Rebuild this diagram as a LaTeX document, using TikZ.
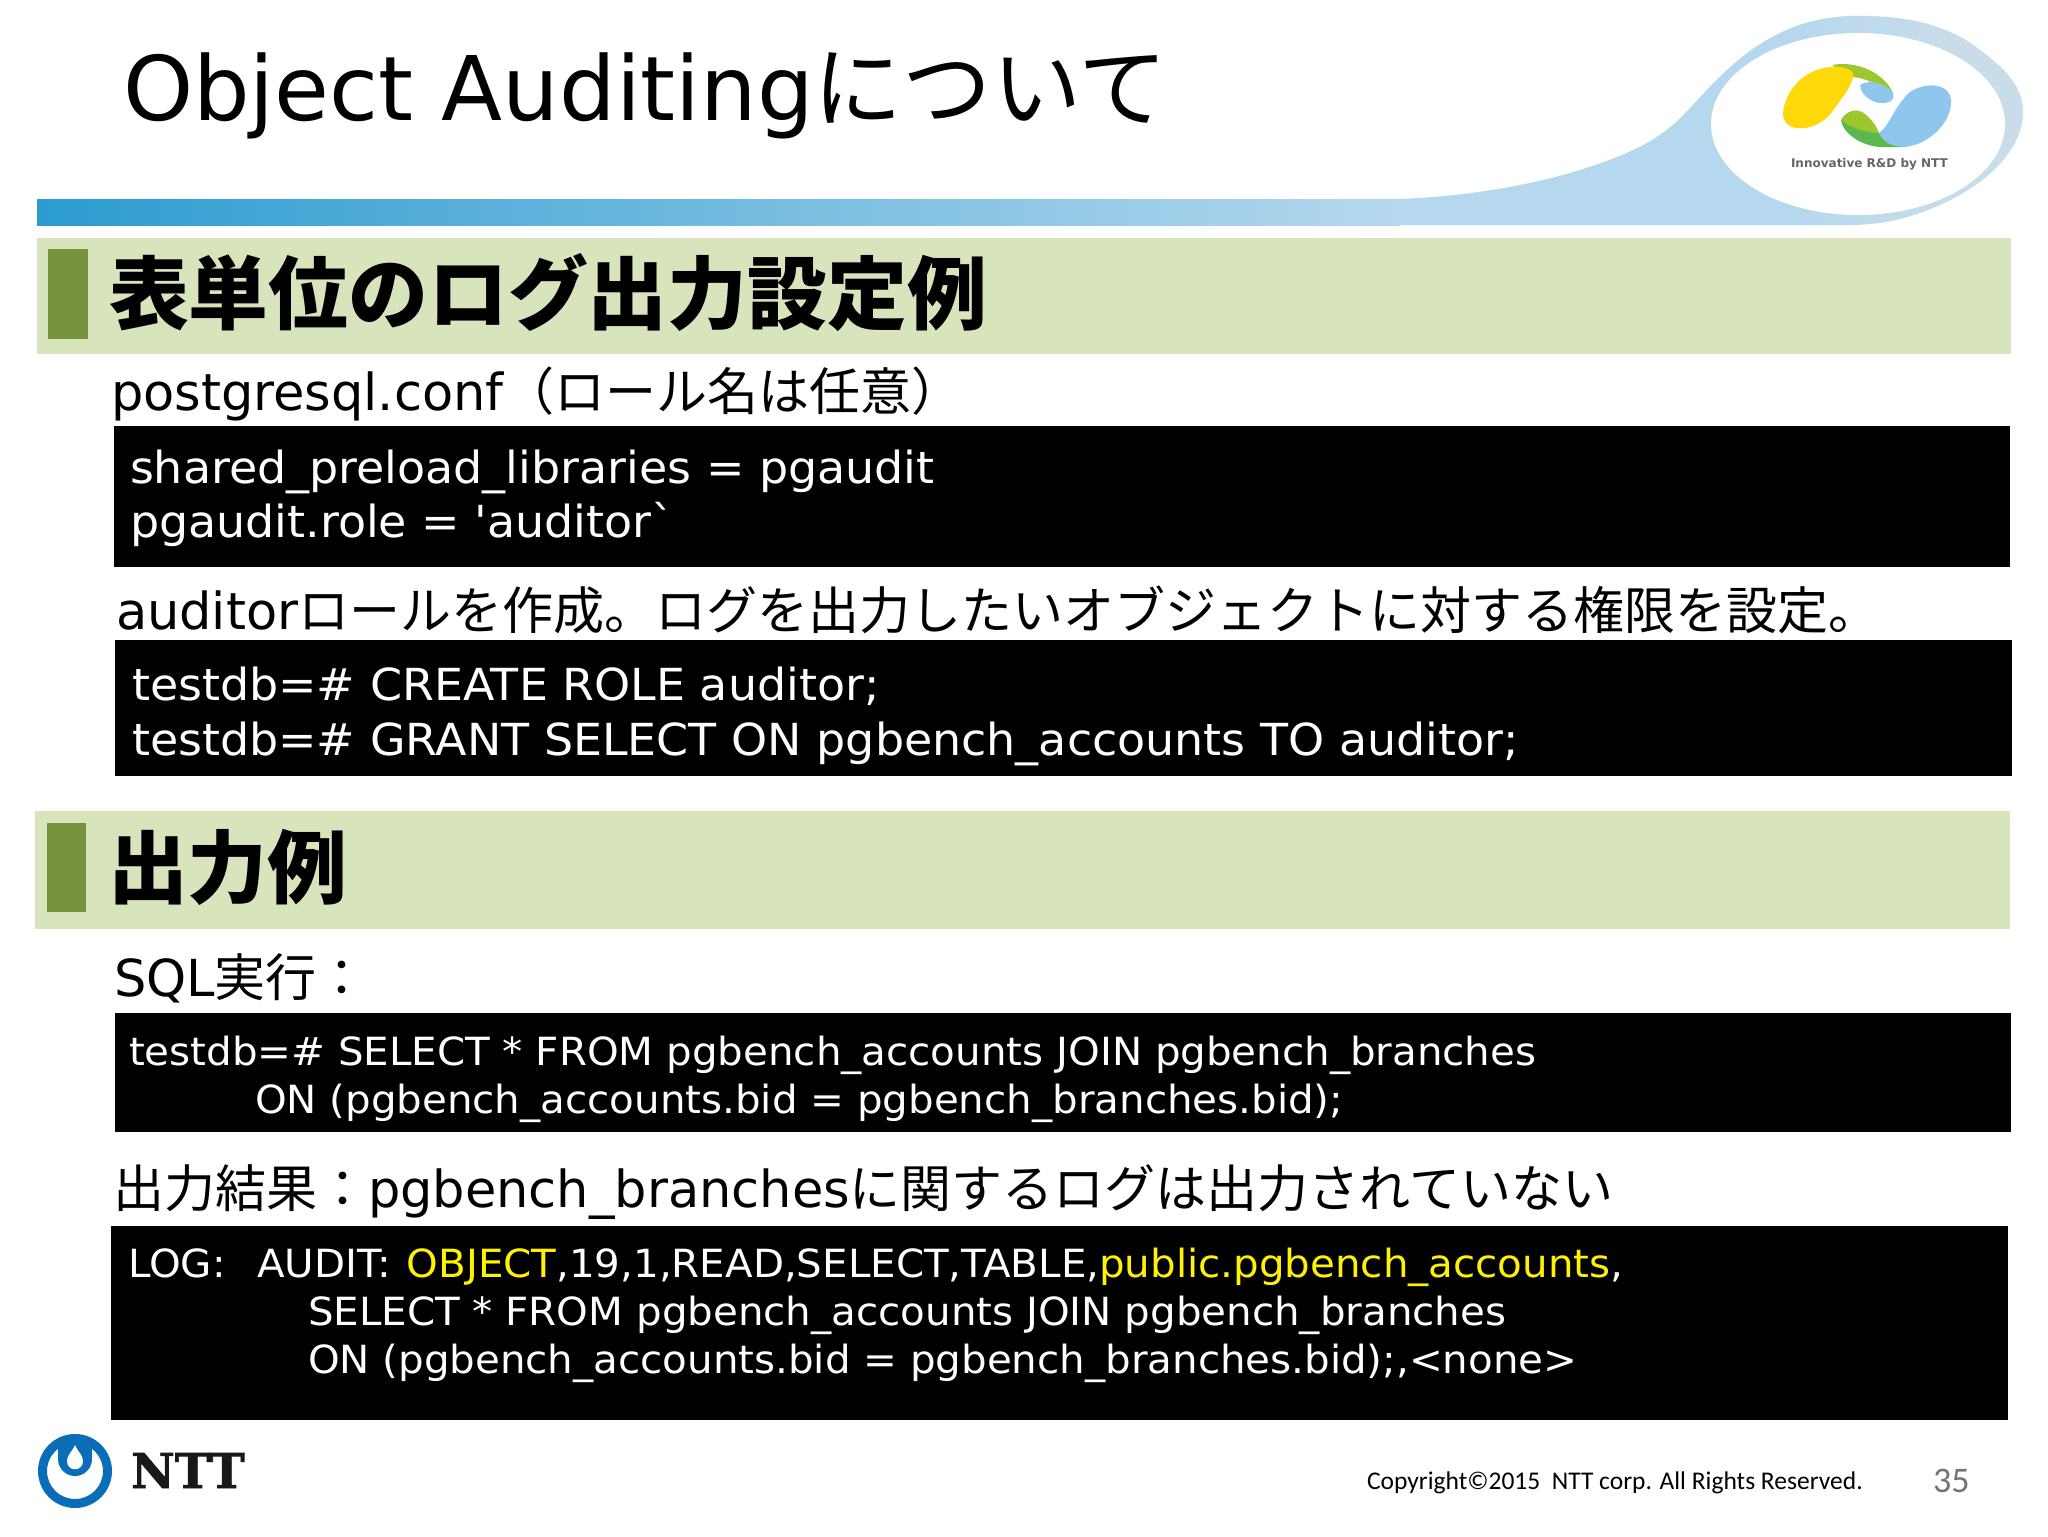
\documentclass[tikz,border=0pt]{standalone}
\usepackage{fontspec}
\setmainfont{DejaVu Sans}
\newfontfamily\cjk{Noto Sans CJK JP}
\newfontfamily\codef[FakeStretch=1.04]{DejaVu Sans}
\newfontfamily\calib{Carlito}
\newfontfamily\slab[FakeBold=1.5]{DejaVu Serif}
\usetikzlibrary{calc}
\definecolor{bandgreen}{HTML}{D8E4BC}
\definecolor{markgreen}{HTML}{76923C}
\definecolor{swoosh}{HTML}{B6D8EE}
\definecolor{ringblue}{HTML}{C8DDE9}
\definecolor{barblue}{HTML}{2C9CD0}
\definecolor{nttblue}{HTML}{0A6DB8}
\definecolor{logoyellow}{HTML}{FFD80A}
\definecolor{logogreen}{HTML}{9CC82E}
\definecolor{logogreenb}{HTML}{5CB84E}
\definecolor{logoblue}{HTML}{8FC6EE}
\newcommand{\J}[1]{{\cjk #1}}
\newcommand{\fs}[1]{\fontsize{#1}{#1}\selectfont}
\tikzset{
  x=0.5pt,y=-0.5pt,
  txt/.style={anchor=base west,inner sep=0pt,outer sep=0pt},
  body/.style={txt,font=\fs{25.5}},
  code/.style={txt,font=\fs{22.08}\codef,text=white},
  sql/.style={txt,font=\fs{19.4}\codef,text=white},
  head/.style={txt,font=\fs{39.9}\cjk\bfseries},
  band/.style={fill=bandgreen,draw=none},
  mark box/.style={fill=markgreen,draw=none},
  black box/.style={fill=black,draw=none},
}
\begin{document}
\begin{tikzpicture}
\useasboundingbox (0,0) rectangle (2048,1536);
\fill[white] (0,0) rectangle (2048,1536);
% top bar and swoosh
\shade[left color=barblue,right color=swoosh] (37,199) rectangle (1400,225);
\begin{scope}
\clip (1399,225) -- (1399,199) .. controls (1450,197) and (1510,190) .. (1570,173)
  .. controls (1620,158) and (1650,145) .. (1675,123)
  .. controls (1695,105) and (1725,65) .. (1762,43)
  .. controls (1790,25) and (1820,17) .. (1850,16)
  .. controls (1900,15) and (1945,22) .. (1980,50)
  .. controls (2010,72) and (2023,90) .. (2023,112)
  .. controls (2023,150) and (1985,190) .. (1920,213)
  .. controls (1895,222) and (1870,225) .. (1850,225) -- cycle;
\fill[swoosh] (1390,0) rectangle (1800,240);
\shade[left color=swoosh,right color=ringblue] (1800,0) rectangle (1950,240);
\fill[ringblue] (1950,0) rectangle (2048,240);
\end{scope}
\fill[white] (1858,124) ellipse [x radius=147,y radius=91];
% NTT R&D logo
\fill[logogreen] (1832,65) .. controls (1860,60) and (1885,75) .. (1893,93)
  .. controls (1880,85) and (1865,78) .. (1853,77) -- cycle;
\fill[logoblue] (1860,85) .. controls (1870,78) and (1888,85) .. (1893,93)
  .. controls (1896,102) and (1885,105) .. (1875,102) .. controls (1866,98) and (1860,92) .. (1860,85) -- cycle;
\fill[logoyellow] (1783,113) .. controls (1785,90) and (1805,68) .. (1832,67)
  .. controls (1845,66) and (1855,70) .. (1853,77) .. controls (1850,90) and (1840,100) .. (1832,112)
  .. controls (1825,122) and (1810,130) .. (1797,128) .. controls (1788,127) and (1783,122) .. (1783,113) -- cycle;
\fill[logoblue] (1879,133) .. controls (1890,125) and (1895,105) .. (1910,92)
  .. controls (1925,82) and (1951,82) .. (1951,102) .. controls (1951,125) and (1925,147) .. (1902,147)
  .. controls (1893,147) and (1883,142) .. (1879,133) -- cycle;
\fill[logogreenb] (1841,120) .. controls (1843,135) and (1865,148) .. (1885,147) -- (1905,147)
  .. controls (1892,147) and (1883,142) .. (1879,133) .. controls (1870,125) and (1860,122) .. (1841,120) -- cycle;
\fill[logogreen] (1841,120) .. controls (1845,112) and (1855,108) .. (1862,112)
  .. controls (1870,117) and (1876,125) .. (1879,133) .. controls (1865,132) and (1850,128) .. (1841,120) -- cycle;
\node[txt,font=\fs{6}\bfseries,text=black!60] (slogan) at (1791,167) {Innovative R\&D by NTT};
% title
\node[txt,font=\fs{44.6}] (title) at (123,120) {Object Auditing\J{について}};
% section 1
\fill[band] (37,238) rectangle (2011,354);
\fill[mark box] (48,249) rectangle (88,339);
\node[head] (h1) at (109,323) {表単位のログ出力設定例};
\node[body] (t1) at (111,410) {postgresql.conf\J{（ロール名は任意）}};
\fill[black box] (114,426) rectangle (2010,567);
\node[code] (c1) at (130,483.5) {shared\_preload\_libraries = pgaudit};
\node[code] (c2) at (130,537.5) {pgaudit.role = 'auditor`};
\node[body] (t2) at (116,629) {auditor\J{ロールを作成。ログを出力したいオブジェクトに対する権限を設定。}};
\fill[black box] (115,640) rectangle (2012,776);
\node[code] (c3) at (132,700) {testdb=\# CREATE ROLE auditor;};
\node[code] (c4) at (132,755) {testdb=\# GRANT SELECT ON pgbench\_accounts TO auditor;};
% section 2
\fill[band] (35,811) rectangle (2010,929);
\fill[mark box] (47,823) rectangle (86,912);
\node[head] (h2) at (108,897) {出力例};
\node[body] (t3) at (114,996) {SQL\J{実行：}};
\fill[black box] (115,1013) rectangle (2011,1132);
\node[sql] (s1) at (129,1065) {testdb=\# SELECT * FROM pgbench\_accounts JOIN pgbench\_branches};
\node[sql] (s2) at (255,1113) {ON (pgbench\_accounts.bid = pgbench\_branches.bid);};
\node[body] (t4) at (113,1207) {\J{出力結果：}pgbench\_branches\J{に関するログは出力されていない}};
\fill[black box] (111,1226) rectangle (2008,1420);
\node[sql] (l1) at (128,1277) {LOG:};
\node[sql] (l2) at (257,1277) {AUDIT:\hspace{1.5pt} \textcolor{yellow}{OBJECT},19,1,READ,SELECT,TABLE,\textcolor{yellow}{public.pgbench\_accounts},};
\node[sql] (l3) at (308,1325) {SELECT * FROM pgbench\_accounts JOIN pgbench\_branches};
\node[sql] (l4) at (308,1373) {ON (pgbench\_accounts.bid = pgbench\_branches.bid);,<none>};
% footer
\fill[nttblue,even odd rule] (75,1471) circle (37) (75,1471) circle (28);
\fill[nttblue] (75,1459) circle (17);
\fill[nttblue] (58,1440) rectangle (92,1459);
\fill[white] (75,1445) .. controls (78,1452) and (83,1455) .. (83,1461)
  .. controls (83,1472) and (67,1472) .. (67,1461) .. controls (67,1455) and (72,1452) .. (75,1445) -- cycle;
\node[txt,font=\fs{24}\slab\bfseries,text=black!90] (ntt) at (131,1488) {NTT};
\node[txt,font=\fs{12.75}\calib] (copy) at (1367,1489) {Copyright©2015\ \ NTT corp. All Rights Reserved.};
\node[txt,font=\fs{18}\calib,text=black!55] (page) at (1933,1492) {35};
\end{tikzpicture}
\end{document}
